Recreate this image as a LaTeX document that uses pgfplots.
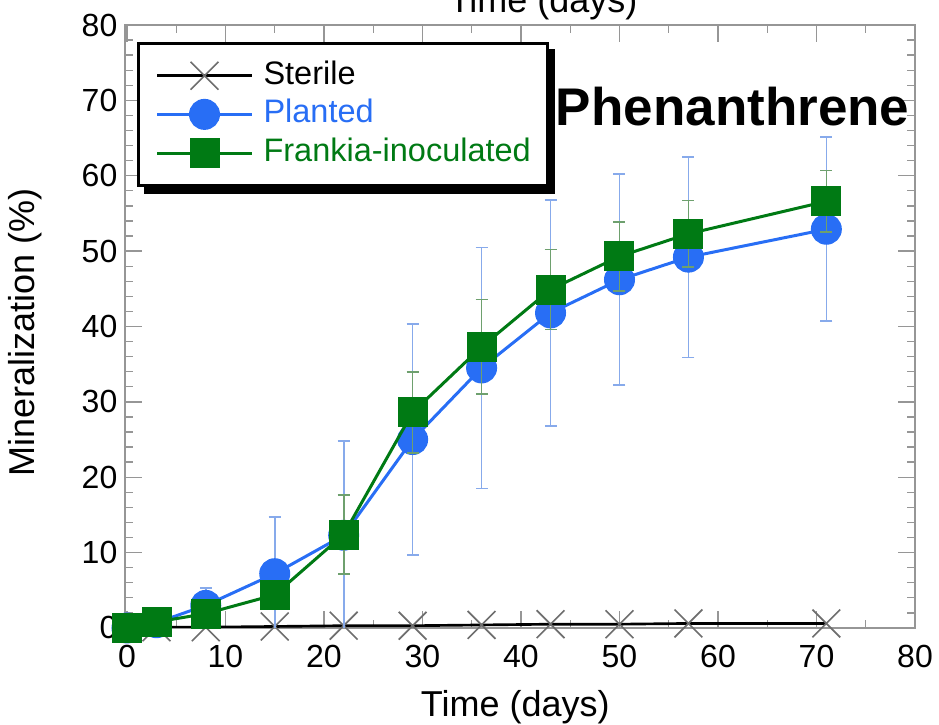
\documentclass[border=0pt]{standalone}
\usepackage{fontspec}
\setmainfont{Liberation Sans}
\usepackage{pgfplots}
\pgfplotsset{compat=1.18}

\definecolor{plblue}{RGB}{40,110,245}
\definecolor{frgreen}{RGB}{0,122,20}
\definecolor{errblue}{RGB}{135,170,235}
\definecolor{errgreen}{RGB}{110,160,110}
\definecolor{axgray}{RGB}{150,150,150}
\definecolor{xgray}{RGB}{110,110,110}

\begin{document}
\begin{tikzpicture}
\begin{axis}[
  width=237pt, height=180.9pt, scale only axis,
  xmin=-0.2, xmax=80, ymin=0, ymax=80,
  xtick={0,10,...,80}, ytick={0,10,...,80},
  minor x tick num=1, minor y tick num=4,
  tick align=inside,
  major tick length=5pt, minor tick length=2.5pt,
  axis line style={axgray, line width=0.6pt},
  every tick/.style={axgray, line width=0.4pt},
  tick label style={font=\fontsize{9.6}{11}\selectfont, black},
  /pgf/number format/assume math mode=true,
  xticklabel style={anchor=base, yshift=-12pt, inner sep=0pt},
  yticklabel style={inner sep=0pt, xshift=-2.1pt},
  xlabel={Time (days)},
  xlabel style={font=\fontsize{10.8}{12}\selectfont, at={(axis description cs:0.494,-0.146)}, anchor=base, inner sep=0pt},
  ylabel={Mineralization (\%)},
  ylabel style={font=\fontsize{10.8}{12}\selectfont, at={(axis description cs:-0.1038,0.49)}, anchor=south, inner sep=0pt},
  clip mode=individual,
  legend style={at={(axis description cs:0.0152,0.972)}, anchor=north west,
    draw=black, line width=0.9pt, fill=white,
    inner xsep=5.1pt, inner ysep=5pt, row sep=2.2pt,
    font=\fontsize{9.75}{11.7}\selectfont,
    nodes={inner sep=0pt, text height=7.2pt, text depth=2.2pt},
    cells={anchor=west},
    /tikz/every odd column/.append style={column sep=3pt}},
  legend image code/.code={\draw[mark repeat=2, mark phase=2, #1] plot coordinates {(0pt,0pt) (14.25pt,0pt) (28.5pt,0pt)};},
]

% legend shadow, drawn before the legend box covers it
\fill[black] (axis description cs:0.024,0.960) rectangle (axis description cs:0.5443,0.7197);

% sterile control
\addplot[black, line width=0.8pt, mark=x, mark size=5.9pt, mark options={xgray, line width=0.5pt}] coordinates {
  (0,0) (3,0.1) (8,0.1) (15,0.2) (22,0.3) (29,0.3)
  (36,0.4) (43,0.5) (50,0.5) (57,0.6) (71,0.6)
};
\addlegendentry{Sterile}

% planted
\addplot[plblue, line width=0.9pt, mark=*, mark size=4.2pt,
  error bars/.cd, y dir=both, y explicit,
  error bar style={errblue, line width=0.5pt},
  error mark options={errblue, rotate=90, mark size=1.8pt, line width=0.5pt}]
  table[x=x, y=y, y error=e] {
x y e
0 0 0
3 0.7 0.3
8 3.0 2.3
15 7.2 7.5
22 12.3 12.5
29 25.0 15.3
36 34.5 16.0
43 41.8 15.0
50 46.2 14.0
57 49.2 13.3
71 52.9 12.2
};
\addlegendentry{\textcolor{plblue}{Planted}}

% frankia-inoculated
\addplot[frgreen, line width=0.9pt, mark=square*, mark size=4.05pt,
  error bars/.cd, y dir=both, y explicit,
  error bar style={errgreen, line width=0.5pt},
  error mark options={errgreen, rotate=90, mark size=1.8pt, line width=0.5pt}]
  table[x=x, y=y, y error=e] {
x y e
0 0 0
3 0.8 0.3
8 1.9 0.5
15 4.4 1.0
22 12.4 5.2
29 28.6 5.4
36 37.3 6.3
43 44.9 5.3
50 49.3 4.6
57 52.3 4.4
71 56.6 4.1
};
\addlegendentry{\textcolor{frgreen}{Frankia-inoculated}}

\node[anchor=base east, font=\fontsize{15.9}{18}\selectfont\bfseries, inner sep=0pt]
  at (axis description cs:0.9937,0.834) {Phenanthrene};
\node[anchor=base west, font=\fontsize{10.8}{12}\selectfont, inner sep=0pt]
  at (axis description cs:0.409,1.02) {Time (days)};

\coordinate (bl) at (axis description cs:0,0);
\coordinate (tr) at (axis description cs:1,1);
\end{axis}
\pgfresetboundingbox
\path[use as bounding box] ([shift={(-37.5pt,-29.1pt)}]bl) rectangle ([shift={(7.2pt,7.5pt)}]tr);
\end{tikzpicture}
\end{document}
